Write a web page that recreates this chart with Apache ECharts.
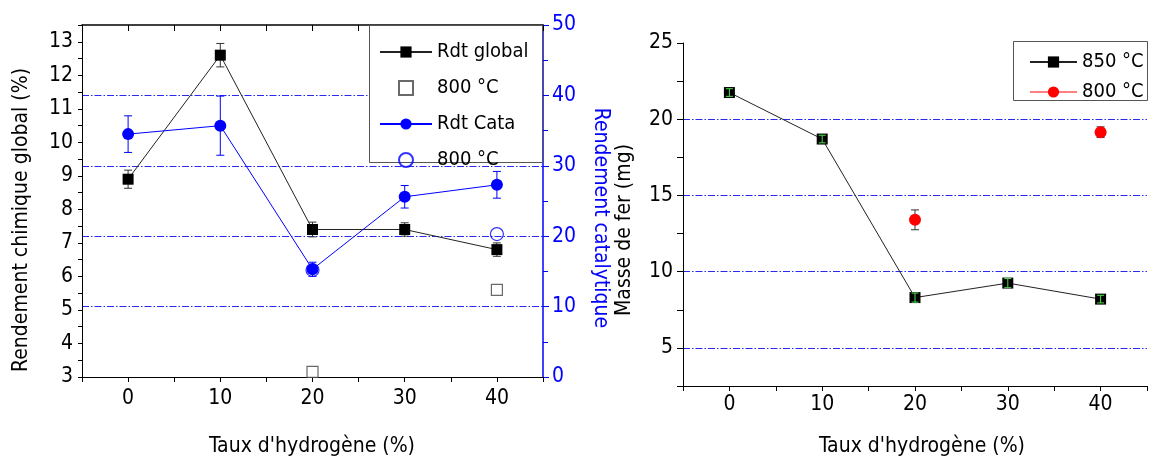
<!DOCTYPE html>
<html><head><meta charset="utf-8">
<script src="https://cdn.jsdelivr.net/npm/echarts@6/dist/echarts.min.js"></script>
<style>html,body{margin:0;padding:0;background:#fff}#c{width:1150px;height:457px}</style>
</head><body><div id="c"></div>
<script>
// ---- data ----
const hydrogen = [0, 10, 20, 30, 40];
const xTickLabels = [0, 10, 20, 30, 40];
const rdtGlobal = [8.9, 12.6, 7.4, 7.4, 6.8];
const rdtGlobalErr = [0.27, 0.35, 0.22, 0.2, 0.2];
const rdtGlobal800X = [20, 40];
const rdtGlobal800 = [3.15, 5.6];
const rdtCata = [34.5, 35.7, 15.3, 25.6, 27.3];
const rdtCataErr = [2.6, 4.2, 1.0, 1.6, 1.9];
const rdtCata800X = [20, 40];
const rdtCata800 = [15.2, 20.3];
const fer850 = [21.75, 18.7, 8.3, 9.25, 8.2];
const fer850Err = [0.25, 0.25, 0.3, 0.3, 0.25];
const fer800X = [20, 40];
const fer800 = [13.4, 19.15];
const fer800Err = [0.65, 0.35];

const FONT = "'DejaVu Sans Condensed', 'DejaVu Sans', sans-serif";
const FS = 21;
const BLUE = '#0000ff';
const GRID_BLUE = '#2a2aee';
const DASHDOT = [7, 2, 1.5, 2];

const pts = (xs, ys) => xs.map((x, i) => [x, ys[i]]);
const errPts = (xs, ys, es) => xs.map((x, i) => [x, ys[i] - es[i], ys[i] + es[i]]);

function errRenderer(color, capW) {
  return function (params, api) {
    const x = api.value(0), lo = api.value(1), hi = api.value(2);
    const t = api.coord([x, hi]), b = api.coord([x, lo]);
    const st = { stroke: color, lineWidth: 1 };
    return { type: 'group', children: [
      { type: 'line', shape: { x1: t[0], y1: t[1], x2: b[0], y2: b[1] }, style: st },
      { type: 'line', shape: { x1: t[0] - capW, y1: t[1], x2: t[0] + capW, y2: t[1] }, style: st },
      { type: 'line', shape: { x1: b[0] - capW, y1: b[1], x2: b[0] + capW, y2: b[1] }, style: st }
    ]};
  };
}

const xLabelFmt = v => xTickLabels.includes(v) ? String(v) : '';
const axisTxt = { fontFamily: FONT, fontSize: FS, color: '#000' };

const SQ = 'path://M0,0H10V10H0Z';
const CI = 'path://M5,0A5,5 0 1,1 5,10A5,5 0 1,1 5,0Z';

const option = {
  animation: false,
  backgroundColor: '#fff',
  grid: [
    { left: 82, right: 607, top: 25, bottom: 80 },
    { left: 683, right: -9, top: 43, bottom: 71 }
  ],
  xAxis: [
    { type: 'value', gridIndex: 0, min: -5, max: 45, interval: 5, position: 'bottom',
      axisLine: { onZero: false, lineStyle: { color: '#000', width: 1 } },
      axisTick: { length: 5, lineStyle: { color: '#000' } },
      axisLabel: Object.assign({ margin: 11, formatter: xLabelFmt }, axisTxt),
      splitLine: { show: false } },
    { type: 'value', gridIndex: 0, min: -5, max: 45, interval: 5, position: 'top',
      axisLine: { onZero: false, lineStyle: { color: '#000', width: 1.5 } },
      axisTick: { inside: true, length: 6, lineStyle: { color: '#000' } },
      axisLabel: { show: false }, splitLine: { show: false } },
    { type: 'value', gridIndex: 1, min: -5, max: 45, interval: 5, position: 'bottom',
      axisLine: { onZero: false, lineStyle: { color: '#000', width: 1 } },
      axisTick: { length: 5, lineStyle: { color: '#000' } },
      axisLabel: Object.assign({ margin: 8, formatter: xLabelFmt }, axisTxt),
      splitLine: { show: false } }
  ],
  yAxis: [
    { type: 'value', gridIndex: 0, min: 3, max: 13.5, interval: 0.5, position: 'left',
      axisLine: { show: true, onZero: false, lineStyle: { color: '#000' } },
      axisTick: { show: true, length: 4, lineStyle: { color: '#000' } },
      axisLabel: Object.assign({ margin: 9, formatter: v => Number.isInteger(v) && v <= 13 ? String(v) : '' }, axisTxt),
      splitLine: { show: false } },
    { type: 'value', gridIndex: 0, min: 0, max: 50, interval: 10, position: 'right',
      axisLine: { show: true, onZero: false, lineStyle: { color: BLUE, width: 1.5 } },
      axisTick: { show: true, length: 6, lineStyle: { color: BLUE } },
      minorTick: { show: true, splitNumber: 2, length: 5, lineStyle: { color: BLUE } },
      axisLabel: Object.assign({}, axisTxt, { color: BLUE, margin: 9 }),
      splitLine: { show: true, showMinLine: false, showMaxLine: false,
        lineStyle: { color: GRID_BLUE, width: 1.2, type: DASHDOT } } },
    { type: 'value', gridIndex: 1, min: 2.5, max: 25, interval: 2.5, position: 'left',
      axisLine: { show: true, onZero: false, lineStyle: { color: '#000' } },
      axisTick: { show: true, length: 6, lineStyle: { color: '#000' } },
      axisLabel: Object.assign({ margin: 10, formatter: v => v % 5 === 0 ? String(v) : '' }, axisTxt),
      splitLine: { show: true, showMaxLine: false,
        lineStyle: { color: ['rgba(0,0,0,0)', GRID_BLUE], width: 1.2, type: DASHDOT } } }
  ],
  legend: [
    { orient: 'vertical', left: 379, top: 42, itemWidth: 52, itemHeight: 14, itemGap: 16, padding: 0,
      textStyle: { fontFamily: FONT, fontSize: 20, color: '#000' },
      data: [ { name: 'Rdt global' }, { name: '800 °C', icon: SQ }, { name: 'Rdt Cata' }, { name: '800 °C ', icon: CI } ] },
    { orient: 'vertical', left: 1029, top: 52, itemWidth: 47, itemHeight: 14, itemGap: 10, padding: 0,
      textStyle: { fontFamily: FONT, fontSize: 20, color: '#000' },
      data: [ { name: '850 °C' },
              { name: '800 °C  ', lineStyle: { color: '#ff0000', width: 1, opacity: 1 } } ] }
  ],
  graphic: [
    { type: 'rect', shape: { x: 369.5, y: 25.5, width: 173, height: 137 }, style: { fill: '#fff', stroke: '#555', lineWidth: 1 }, z: 1 },
    { type: 'rect', shape: { x: 1013.5, y: 41.5, width: 134, height: 59 }, style: { fill: '#fff', stroke: '#555', lineWidth: 1 }, z: 1 },
    { type: 'text', x: 22, y: 220, rotation: Math.PI / 2, style: { text: 'Rendement chimique global (%)', font: FS + 'px ' + FONT, fill: '#000', align: 'center', verticalAlign: 'middle' } },
    { type: 'text', x: 600, y: 218, rotation: -Math.PI / 2, style: { text: 'Rendement catalytique', font: FS + 'px ' + FONT, fill: BLUE, align: 'center', verticalAlign: 'middle' } },
    { type: 'text', x: 625, y: 230, rotation: Math.PI / 2, style: { text: 'Masse de fer (mg)', font: FS + 'px ' + FONT, fill: '#000', align: 'center', verticalAlign: 'middle' } },
    { type: 'text', x: 312, y: 447, style: { text: "Taux d'hydrogène (%)", font: FS + 'px ' + FONT, fill: '#000', align: 'center', verticalAlign: 'middle' } },
    { type: 'text', x: 922, y: 447, style: { text: "Taux d'hydrogène (%)", font: FS + 'px ' + FONT, fill: '#000', align: 'center', verticalAlign: 'middle' } }
  ],
  series: [
    // left chart
    { type: 'custom', name: 'errGlobal', xAxisIndex: 0, yAxisIndex: 0, z: 2,
      renderItem: errRenderer('#333', 4), encode: { x: 0, y: [1, 2] },
      data: errPts(hydrogen, rdtGlobal, rdtGlobalErr), silent: true },
    { type: 'custom', name: 'errCata', xAxisIndex: 0, yAxisIndex: 1, z: 2,
      renderItem: errRenderer(BLUE, 4), encode: { x: 0, y: [1, 2] },
      data: errPts(hydrogen, rdtCata, rdtCataErr), silent: true },
    { type: 'line', name: 'Rdt global', xAxisIndex: 0, yAxisIndex: 0, z: 3,
      data: pts(hydrogen, rdtGlobal), symbol: 'rect', symbolSize: 11,
      itemStyle: { color: '#000' }, lineStyle: { color: '#222', width: 1 } },
    { type: 'scatter', name: '800 °C', xAxisIndex: 0, yAxisIndex: 0, z: 3,
      data: pts(rdtGlobal800X, rdtGlobal800), symbol: 'rect', symbolSize: 11,
      itemStyle: { color: '#fff', borderColor: '#444', borderWidth: 1.2 } },
    { type: 'line', name: 'Rdt Cata', xAxisIndex: 0, yAxisIndex: 1, z: 3,
      data: pts(hydrogen, rdtCata), symbol: 'circle', symbolSize: 12,
      itemStyle: { color: BLUE }, lineStyle: { color: BLUE, width: 1 } },
    { type: 'scatter', name: '800 °C ', xAxisIndex: 0, yAxisIndex: 1, z: 3,
      data: pts(rdtCata800X, rdtCata800), symbol: 'circle', symbolSize: 13,
      itemStyle: { color: 'rgba(255,255,255,0)', borderColor: BLUE, borderWidth: 1.2 } },
    // right chart
    { type: 'line', name: '850 °C', xAxisIndex: 2, yAxisIndex: 2, z: 3,
      data: pts(hydrogen, fer850), symbol: 'rect', symbolSize: 11,
      itemStyle: { color: '#000' }, lineStyle: { color: '#222', width: 1 } },
    { type: 'custom', name: 'err850', xAxisIndex: 2, yAxisIndex: 2, z: 4,
      renderItem: errRenderer('#4ee04e', 3.5), encode: { x: 0, y: [1, 2] },
      data: errPts(hydrogen, fer850, fer850Err), silent: true },
    { type: 'custom', name: 'err800', xAxisIndex: 2, yAxisIndex: 2, z: 2,
      renderItem: errRenderer('#333', 4), encode: { x: 0, y: [1, 2] },
      data: errPts(fer800X, fer800, fer800Err), silent: true },
    { type: 'line', name: '800 °C  ', xAxisIndex: 2, yAxisIndex: 2, z: 3,
      data: pts(fer800X, fer800), symbol: 'circle', symbolSize: 12,
      itemStyle: { color: '#ff0000' }, lineStyle: { color: '#ff0000', width: 1, opacity: 0 } }
  ]
};

const chart = echarts.init(document.getElementById('c'));
chart.setOption(option);
</script></body></html>
